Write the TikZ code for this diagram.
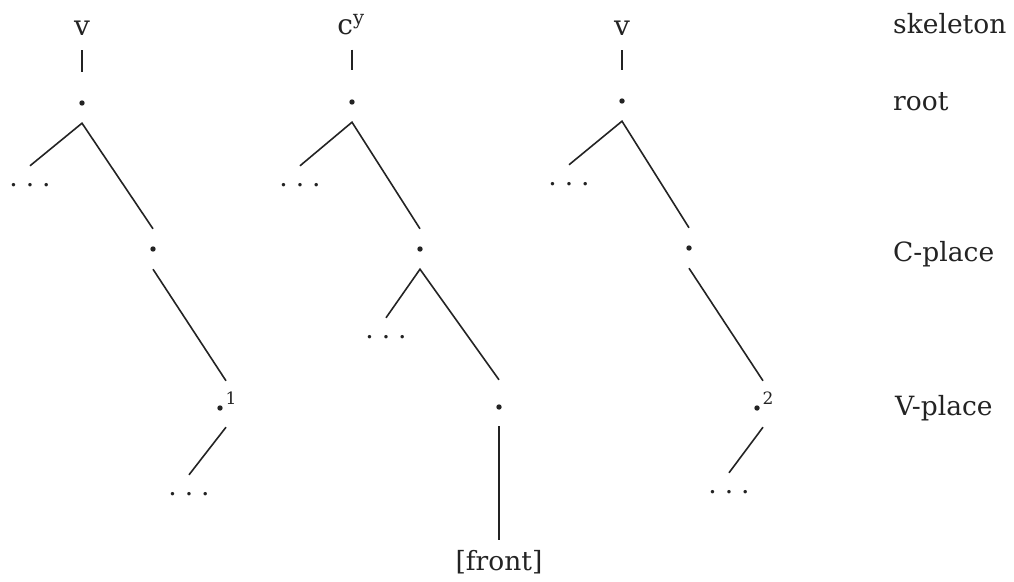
\documentclass[tikz,border=0pt]{standalone}
\usepackage{fontspec}
\setmainfont{DejaVu Serif}
\definecolor{ink}{RGB}{35,35,35}
\newcommand\threedots{.\kern8pt.\kern8pt.}
\tikzset{
 every node/.style={font=\fontsize{26.5}{32}\selectfont, text=ink, inner sep=0pt},
 tn/.style={rectangle, minimum width=8pt, minimum height=40pt,
   path picture={\fill[ink] (path picture bounding box.center) circle (2.7pt);}},
 vp/.style={rectangle, minimum width=24pt, minimum height=46pt,
   path picture={\fill[ink] ([shift={(#1,-4pt)}]path picture bounding box.center) circle (2.7pt);}},
 vp/.default=0pt,
 dd/.style={anchor=base, text height=20pt, text depth=0pt},
 sk/.style={anchor=base, font=\fontsize{28}{32}\selectfont},
 lab/.style={anchor=base west},
 sup/.style={font=\fontsize{17}{20}\selectfont},
 br/.style={draw=ink, line width=1.6pt, line join=miter},
}
\begin{document}
\begin{tikzpicture}[x=1pt,y=-1pt]
\useasboundingbox (0,0) rectangle (1014,581);
% tree 1
\node[sk] (v1) at (82,35) {v};
\node[tn] (r1) at (82,103) {};
\node[dd] (d1a) at (30,186) {\threedots};
\node[tn] (c1) at (153,249) {};
\node[vp=-6pt] (p1) at (226,404) {};
\node[sup] (s1) at (231,398) {1};
\node[dd] (d1b) at (189,495) {\threedots};
\draw[br, shorten <=15pt, shorten >=11pt] (v1.south) -- (r1.north);
\draw[br] (d1a.north) -- (r1.south) -- (c1.north);
\draw[br] (c1.south) -- (p1.north);
\draw[br] (p1.south) -- (d1b.north);
% tree 2
\node[sk] (v2) at (351,34) {c\textsuperscript{y}};
\node[tn] (r2) at (352,102) {};
\node[dd] (d2a) at (300,186) {\threedots};
\node[tn] (c2) at (420,249) {};
\node[dd] (d2b) at (386,338) {\threedots};
\node[vp] (p2) at (499,403) {};
\node[anchor=base] (f) at (499,570) {[front]};
\draw[br, shorten <=15pt, shorten >=12pt] (v2.south -| r2.north) -- (r2.north);
\draw[br] (d2a.north) -- (r2.south) -- (c2.north);
\draw[br] (d2b.north) -- (c2.south) -- (p2.north);
\draw[br, shorten >=10pt] (p2.south) -- (f.north);
% tree 3
\node[sk] (v3) at (622,35) {v};
\node[tn] (r3) at (622,101) {};
\node[dd] (d3a) at (569,185) {\threedots};
\node[tn] (c3) at (689,248) {};
\node[vp=-6pt] (p3) at (763,404) {};
\node[sup] (s3) at (768,398) {2};
\node[dd] (d3b) at (729,493) {\threedots};
\draw[br, shorten <=15pt, shorten >=11pt] (v3.south) -- (r3.north);
\draw[br] (d3a.north) -- (r3.south) -- (c3.north);
\draw[br] (c3.south) -- (p3.north);
\draw[br] (p3.south) -- (d3b.north);
% level labels
\node[lab] (l1) at (893,33) {skeleton};
\node[lab] (l2) at (893,110) {root};
\node[lab] (l3) at (893,261) {C-place};
\node[lab] (l4) at (895,415) {V-place};
\end{tikzpicture}
\end{document}
